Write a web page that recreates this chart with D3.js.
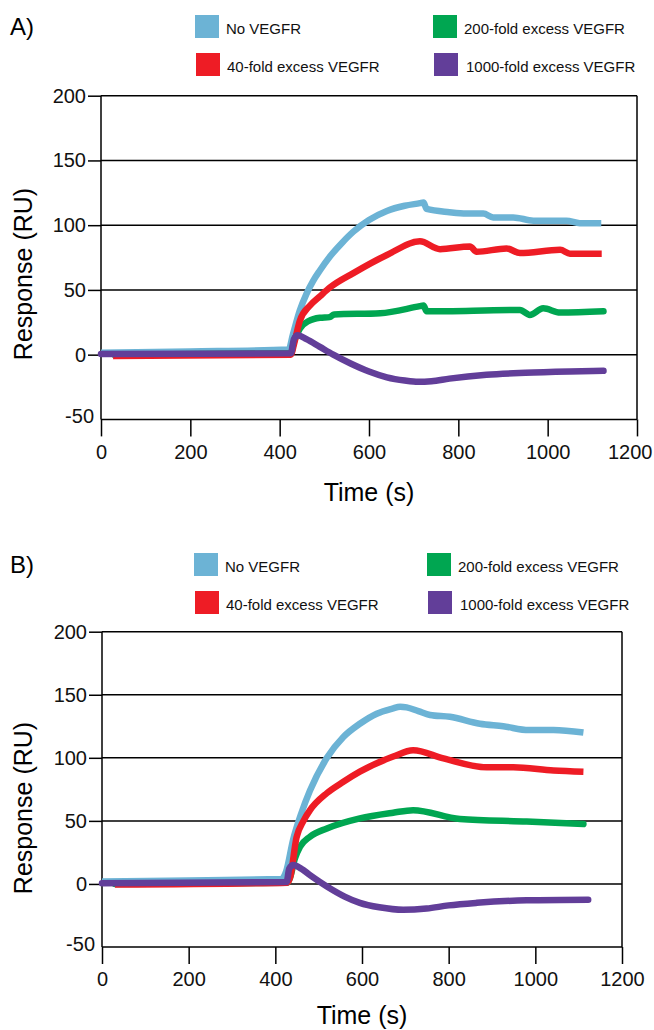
<!DOCTYPE html>
<html>
<head>
<meta charset="utf-8">
<script src="https://cdnjs.cloudflare.com/ajax/libs/d3/7.8.5/d3.min.js"></script>
<style>
  body { margin: 0; background: #fff; }
  svg { font-family: "Liberation Sans", Arial, Helvetica, sans-serif; }
  .axis path { display: none; }
  .axis line { stroke: #000; stroke-width: 1.5; }
  .axis text { font-size: 20px; fill: #111; }
  .series { fill: none; stroke-width: 6.5; stroke-linejoin: round; }
</style>
</head>
<body>
<div id="grafico"></div>
<script>
// series names, legend order
var seriesNames = ["No VEGFR", "40-fold excess VEGFR", "200-fold excess VEGFR", "1000-fold excess VEGFR"];
var seriesColors = ["#6cb3d5", "#ee1c25", "#00a651", "#623e99"];

var xTicks = [0, 200, 400, 600, 800, 1000, 1200];
var yTicks = [-50, 0, 50, 100, 150, 200];

// panel A  [time (s), response (RU)]
var noVegfrA = [[0,1.5],[200,2.5],[420,4],[430,16],[445,34],[460,47],[475,57],[490,65],[513,76],[540,86.5],[565,95],[600,104],[640,111],[680,115],[714,117],[722,117.5],[729,112.5],[780,110],[818,109],[856,109],[878,106],[923,106],[968,103.5],[1042,103.5],[1072,101.5],[1120,101.5]];
var fold40A = [[27,-1],[425,0],[432,8],[445,26],[468,38],[490,45],[513,52],[565,63],[640,77],[714,87.5],[759,81.5],[826,83.5],[841,79.5],[908,82],[938,78.5],[1028,81],[1050,78],[1121,78]];
var fold200A = [[30,0],[425,1],[432,10],[445,20],[465,26],[490,28.5],[512,29],[522,31],[625,32],[714,37.5],[722,38],[729,33.5],[938,34.5],[960,30.7],[990,35.8],[1028,32.5],[1125,33.5]];
var fold1000A = [[0,0.5],[425,1],[432,12],[440,15],[460,12],[490,6],[520,0],[560,-7],[600,-13],[640,-17.5],[680,-20],[710,-21],[740,-20.5],[780,-18.5],[863,-15.5],[950,-14],[1050,-13],[1125,-12.5]];

// panel B
var noVegfrB = [[0,2],[415,4],[425,10],[441,35],[460,56],[480,74],[519,100],[557,116.5],[595,127],[634,135],[670,139],[688,140.5],[703,140],[730,137],[757,134],[803,132.5],[872,127],[926,125],[985,122],[1042,122],[1111,120]];
var fold40B = [[30,-0.5],[428,1],[434,5],[449,37],[465,50],[480,58.5],[519,72],[557,81],[595,89],[672,101],[718,106],[788,99.5],[888,92.5],[949,92.5],[1042,90],[1111,89]];
var fold200B = [[30,0],[428,1],[434,5],[445,20],[457,29.5],[480,37.5],[519,44],[595,52],[672,56.5],[718,58.5],[826,51.5],[980,49.5],[1111,47.5]];
var fold1000B = [[0,0.5],[426,1.5],[432,12],[441,15],[460,12],[480,7],[519,-2],[560,-10],[595,-15],[640,-18.5],[695,-20.5],[749,-19.5],[800,-17],[865,-15],[980,-13],[1122,-12.5]];

var svg = d3.select("#grafico").append("svg")
	.attr("width", 654)
	.attr("height", 1030);

function monta_painel(p) {

	var g = svg.append("g");

	// set the ranges
	var x = d3.scaleLinear().domain([0, 1200]).range([p.left, p.right]);
	var y = d3.scaleLinear().domain([-50, 200]).range([p.bottom, p.top]);

	// panel letter
	g.append("text")
		.attr("x", 10)
		.attr("y", p.letterY)
		.style("font-size", "24px")
		.text(p.letter);

	// legend
	var leg = g.selectAll(".leg")
		.data(seriesNames)
	  .enter().append("g")
		.attr("transform", function(d, i) {
			var col = Math.floor(i / 2), row = i % 2;
			return "translate(" + (p.legX[col] + row) + "," + (p.legY + row * 38) + ")";
		});
	leg.append("rect")
		.attr("width", 24)
		.attr("height", 23)
		.style("fill", function(d, i) { return seriesColors[i]; });
	leg.append("text")
		.attr("x", function(d, i) { return i == 3 ? 32 : 31; })
		.attr("y", 19)
		.style("font-size", "15px")
		.style("fill", "#111")
		.text(function(d) { return d; });

	// gridlines
	g.append("g")
		.selectAll("line")
		.data(yTicks.filter(function(d) { return d > -50; }))
	  .enter().append("line")
		.attr("x1", p.left).attr("x2", p.right)
		.attr("y1", function(d) { return y(d); })
		.attr("y2", function(d) { return y(d); })
		.style("stroke", "#000")
		.style("stroke-width", 1.5);

	// right border
	g.append("line")
		.attr("x1", p.right).attr("x2", p.right)
		.attr("y1", p.top).attr("y2", p.bottom)
		.style("stroke", "#000")
		.style("stroke-width", 1.5);

	var plain = function(d) { return String(d); };

	// X axis
	var xa = g.append("g")
		.attr("class", "axis")
		.attr("transform", "translate(0," + p.bottom + ")")
		.call(d3.axisBottom(x).tickValues(xTicks).tickFormat(plain).tickSize(17).tickSizeOuter(0).tickPadding(8));
	xa.append("line")
		.attr("x1", p.left).attr("x2", p.right);
	// keep the last label inside the page
	xa.selectAll(".tick text").each(function() {
		var b = this.getBBox();
		var xr = x(+this.textContent) + b.x + b.width;
		if (xr > 652) d3.select(this).attr("x", 652 - xr);
	});

	// Y axis
	var ya = g.append("g")
		.attr("class", "axis")
		.attr("transform", "translate(" + p.left + ",0)")
		.call(d3.axisLeft(y).tickValues(yTicks).tickFormat(plain).tickSize(13).tickSizeOuter(0).tickPadding(2));
	ya.append("line")
		.attr("y1", p.top).attr("y2", p.bottom);
	ya.selectAll(".tick").filter(function(d) { return d == -50; })
		.each(function() {
			d3.select(this).select("line").attr("x2", 0);
			d3.select(this).select("text").attr("x", -7).attr("dy", "0.15em");
		});

	// axis titles
	g.append("text")
		.attr("x", (p.left + p.right) / 2)
		.attr("y", p.timeY)
		.attr("text-anchor", "middle")
		.style("font-size", "25px")
		.text("Time (s)");
	g.append("text")
		.attr("transform", "translate(32," + p.respY + ") rotate(-90)")
		.attr("text-anchor", "middle")
		.style("font-size", "25px")
		.text("Response (RU)");

	// define the line
	var valueline = d3.line()
		.x(function(d) { return x(d[0]); })
		.y(function(d) { return y(d[1]); })
		.curve(d3.curveMonotoneX);

	// draw order: blue, green, red, purple
	var ordem = [0, 2, 1, 3];
	ordem.forEach(function(i) {
		g.append("path")
			.data([p.series[i]])
			.attr("class", "series")
			.attr("d", valueline)
			.style("stroke", seriesColors[i])
			.style("stroke-linecap", (i == 2 || i == 3) ? "round" : "butt");
	});
}

monta_painel({
	letter: "A)", letterY: 35,
	legX: [195, 433], legY: 15,
	left: 101, right: 637, top: 95.7, bottom: 419.4,
	timeY: 501, respY: 274,
	series: [noVegfrA, fold40A, fold200A, fold1000A]
});

monta_painel({
	letter: "B)", letterY: 573,
	legX: [194, 427], legY: 553,
	left: 102, right: 622, top: 631.7, bottom: 947,
	timeY: 1024, respY: 808,
	series: [noVegfrB, fold40B, fold200B, fold1000B]
});
</script>
</body>
</html>
